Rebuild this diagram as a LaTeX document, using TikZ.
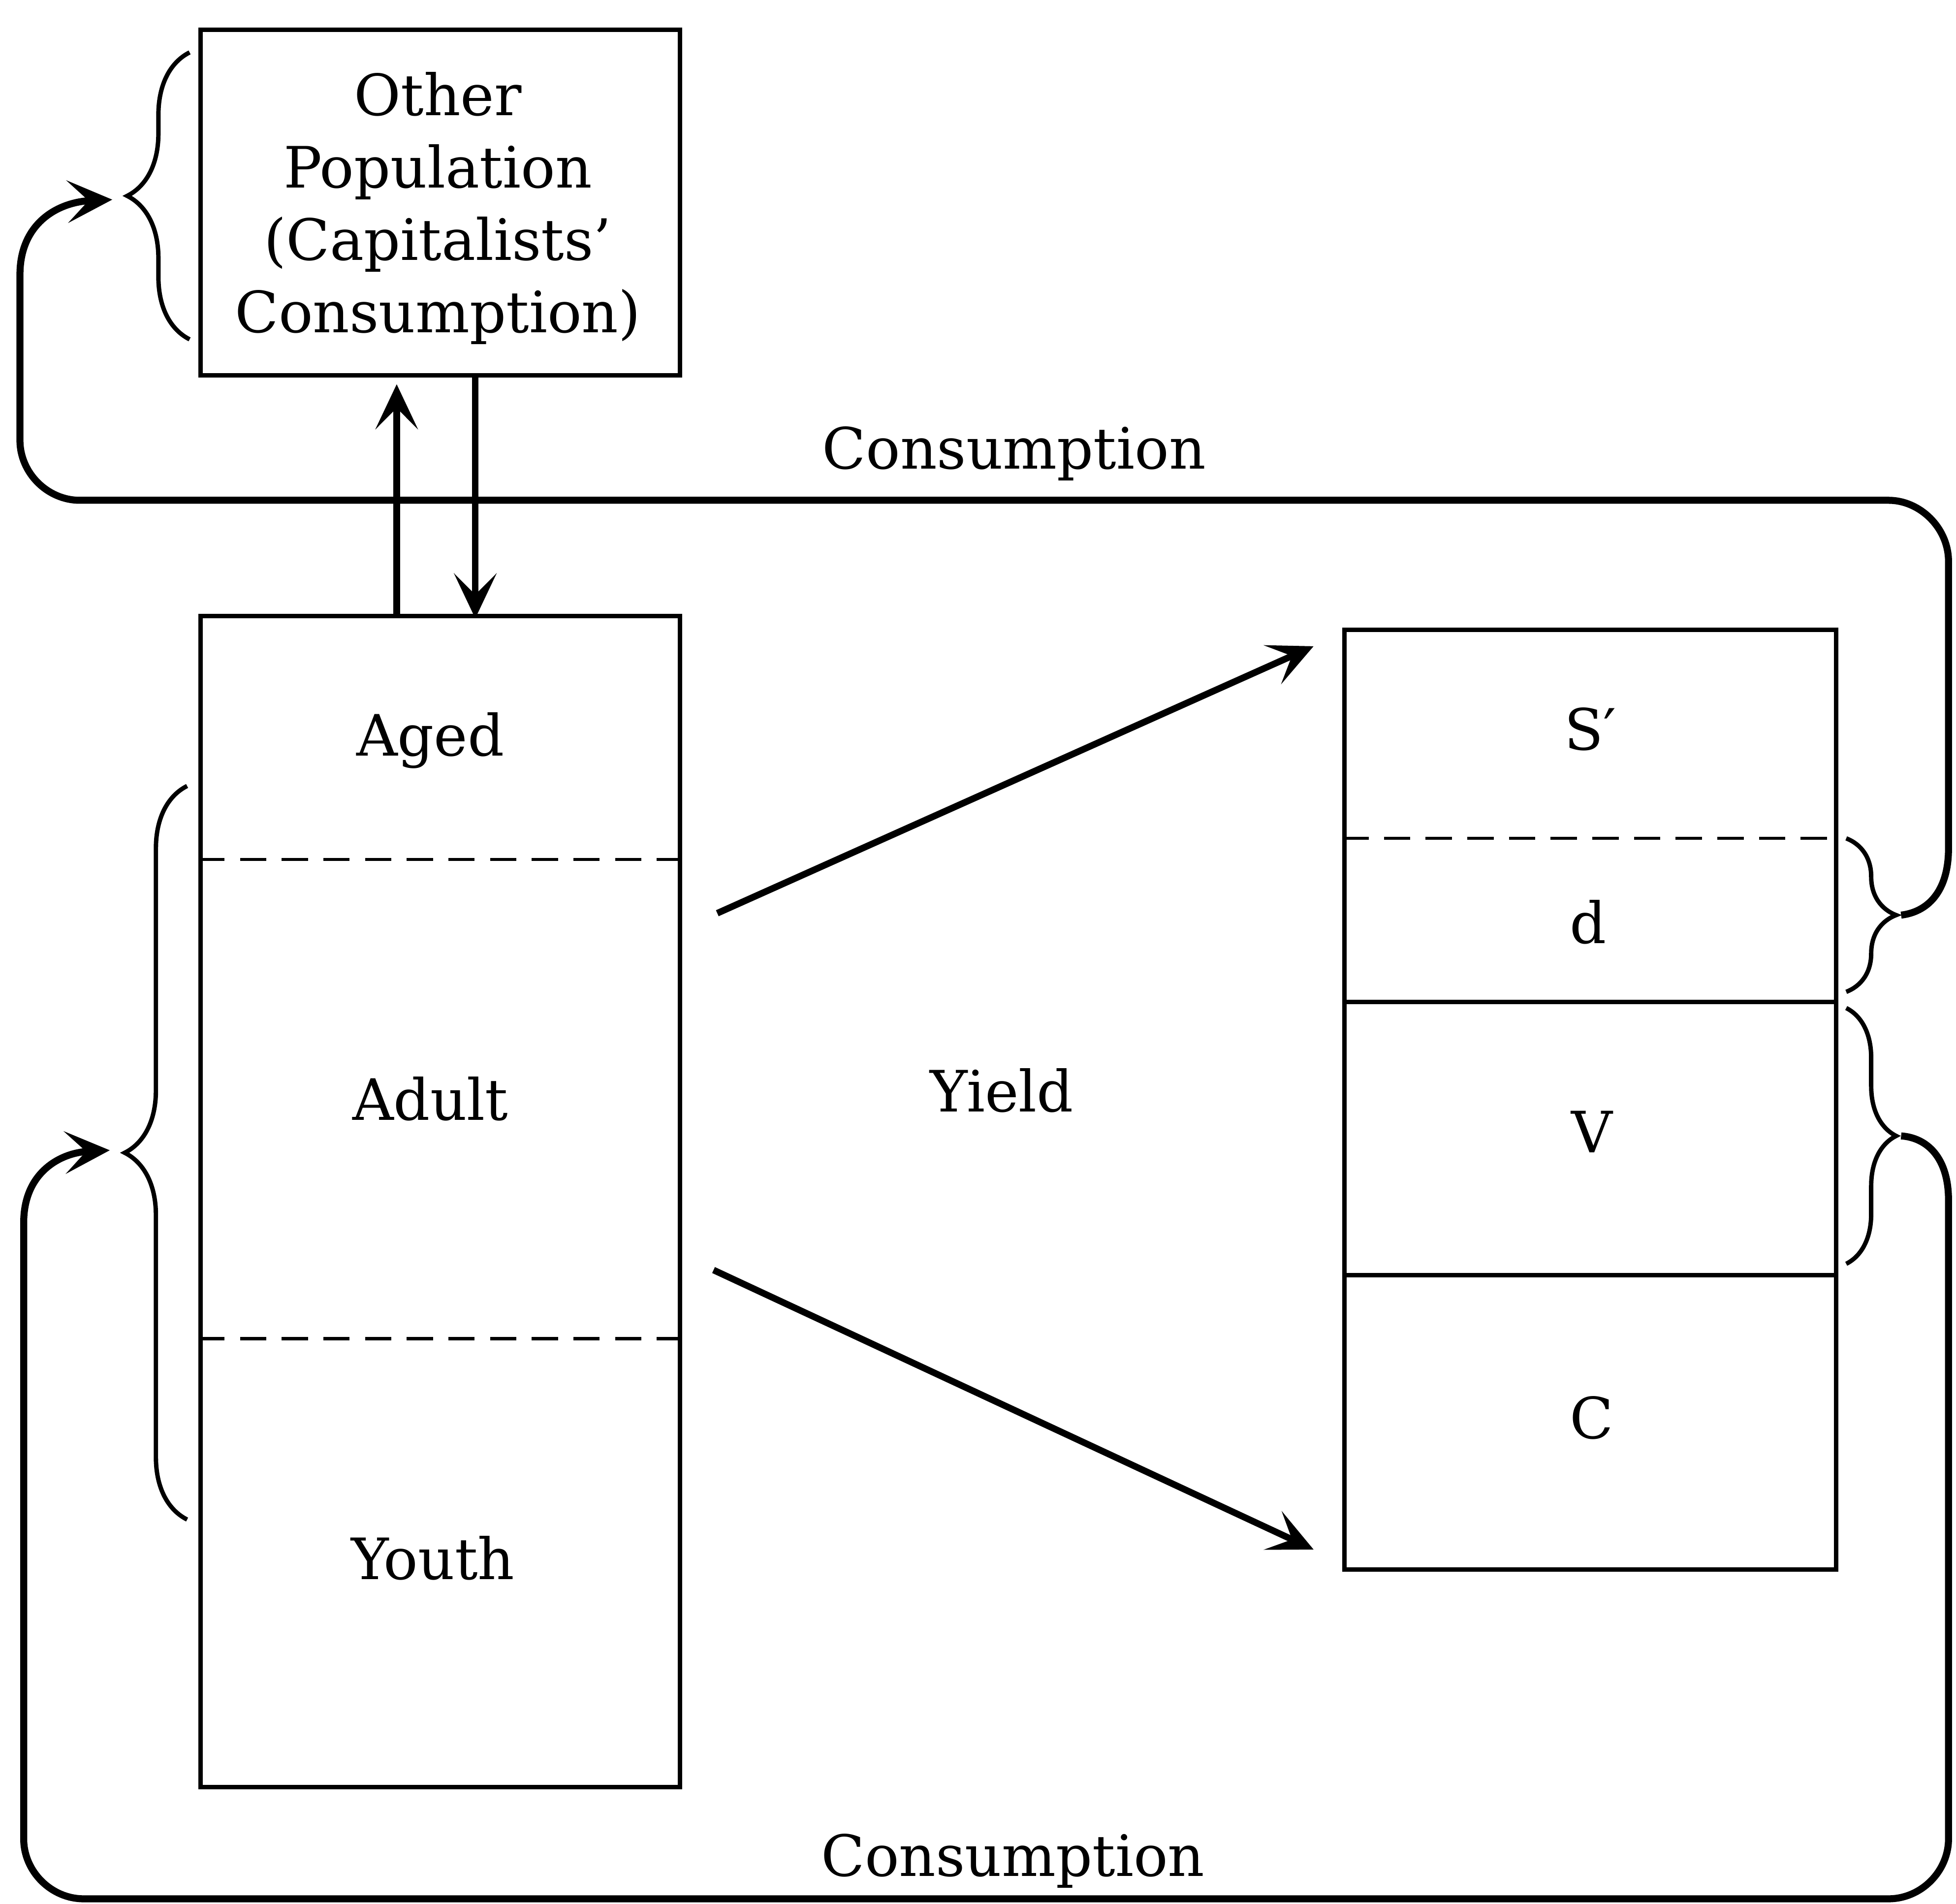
\documentclass[tikz,border=0pt]{standalone}
\usepackage{fontspec}
\setmainfont{DejaVu Serif}
\usetikzlibrary{arrows.meta,decorations.pathreplacing,calc}
\begin{document}
\begin{tikzpicture}[x=0.01cm,y=-0.01cm,
  box/.style={draw, line width=1.0pt, inner sep=0pt, anchor=north west},
  lbl/.style={font=\fontsize{13}{16.5}\selectfont, inner sep=0pt, anchor=base},
  divd/.style={dash pattern=on 6pt off 3.5pt, line width=0.7pt},
  divs/.style={line width=1.0pt},
  tip/.style={-{Stealth[length=3.6mm,width=3.4mm,inset=1.7mm]}},
  flow/.style={tip, line width=1.5pt},
  loopline/.style={tip, line width=1.6pt},
  brcl/.style={decorate, decoration={brace, amplitude=0.5cm}, line width=1pt},
  brcr/.style={decorate, decoration={brace, amplitude=0.4cm}, line width=1pt}
]
\useasboundingbox (0,0) rectangle (1568,1526);

% boxes
\node[box, minimum width=3.84cm, minimum height=2.77cm] (other) at (159,22) {};
\node[box, minimum width=3.84cm, minimum height=9.38cm] (pop) at (159,492) {};
\node[box, minimum width=3.94cm, minimum height=7.53cm] (surp) at (1076,503) {};

% divisions
\draw[divd] (pop.west |- 0,689) -- (pop.east |- 0,689);
\draw[divd] (pop.west |- 0,1073) -- (pop.east |- 0,1073);
\draw[divd] (surp.west |- 0,672) -- (surp.east |- 0,672);
\draw[divs] (surp.west |- 0,803) -- (surp.east |- 0,803);
\draw[divs] (surp.west |- 0,1022) -- (surp.east |- 0,1022);

% texts
\node[font=\fontsize{13}{16.5}\selectfont, inner sep=0pt, align=center] (othert) at (351,167)
  {Other\\Population\\(Capitalists’\\Consumption)};
\node[lbl] (aged) at (345,606) {Aged};
\node[lbl] (adult) at (345,898) {Adult};
\node[lbl] (youth) at (347,1266) {Youth};
\node[lbl] (sp) at (1275,601) {S′};
\node[lbl] (d) at (1273,756) {d};
\node[lbl] (v) at (1276,924) {V};
\node[lbl] (c) at (1276,1153) {C};
\node[lbl] (yield) at (803,891) {Yield};
\node[lbl] (cons1) at (813,376) {Consumption};
\node[lbl] (cons2) at (812,1504) {Consumption};

% arrows between other population and population
\draw[flow] (pop.north west) ++(159,0) -- ++(0,-184);
\draw[flow] (other.south west) ++(222,0) -- ++(0,193);

% yield arrows
\coordinate (y1s) at (575,732);
\coordinate (y1e) at (1053,518);
\coordinate (y2s) at (572,1018);
\coordinate (y2e) at (1053,1242);
\draw[flow] (y1s) -- (y1e);
\draw[flow] (y2s) -- (y2e);

% braces
\draw[brcl] (152,272) -- (152,42);
\draw[brcl] (150,1218) -- (150,630);
\draw[brcr] (1480,672) -- (1480,795);
\draw[brcr] (1480,808) -- (1480,1013);
\coordinate (dtip) at (1524,733.5);
\coordinate (vtip) at (1524,910.5);
\coordinate (otip) at (90,160);
\coordinate (ptip) at (88,922);

% consumption loops
\draw[loopline] (dtip) .. controls (1545,731) and (1562,715) .. (1562,680)
  -- (1562,450) .. controls (1562,423) and (1539,401) .. (1514,401)
  -- (64,401) .. controls (38,401) and (16,379) .. (16,353)
  -- (16,220) .. controls (16,180) and (45,162) .. (otip);
\draw[loopline] (vtip) .. controls (1545,912) and (1562,928) .. (1562,962)
  -- (1562,1474) .. controls (1562,1500) and (1540,1522) .. (1514,1522)
  -- (67,1522) .. controls (41,1522) and (19,1500) .. (19,1474)
  -- (19,980) .. controls (19,940) and (48,924) .. (ptip);
\end{tikzpicture}
\end{document}
